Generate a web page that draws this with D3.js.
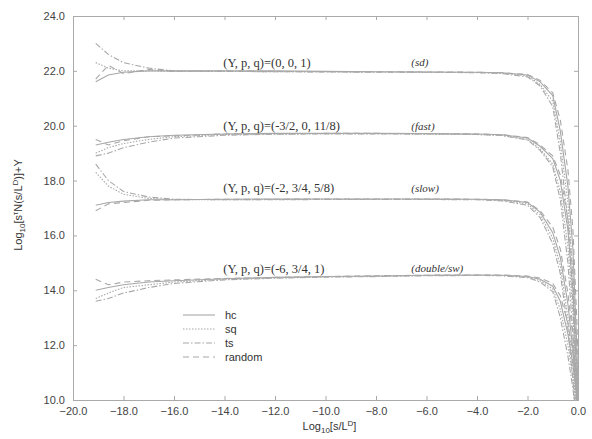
<!DOCTYPE html>
<html><head><meta charset="utf-8">
<script src="https://cdn.jsdelivr.net/npm/d3@7"></script>
<style>body{margin:0;background:#fff}svg{display:block}</style>
</head><body><svg id="c" width="592" height="439"></svg>
<script>
const xTicks = [-20,-18,-16,-14,-12,-10,-8,-6,-4,-2,0];
const yTicks = [10,12,14,16,18,20,22,24];
const seriesNames = ["hc","sq","ts","random"];
const xs = [-19.1,-18.6,-18.0,-17.0,-16.0,-14.0,-12.0,-10.0,-8.0,-6.0,-4.0,-3.0,-2.0,-1.5,-1.0,-0.7,-0.4,-0.2,-0.05,0];
// group (0,0,1) sd
const sd_hc  = [21.6,21.85,21.95,22.0,22.0,22.0,22.0,21.98,21.97,21.96,21.95,21.93,21.85,21.6,21.1,19.8,17.8,15.5,12.0,10.5];
const sd_sq  = [22.3,22.1,22.0,22.0,21.98,21.98,21.97,21.97,21.96,21.95,21.94,21.92,21.82,21.5,20.9,19.4,17.2,14.6,11.2,9.8];
const sd_ts  = [23.0,22.6,22.3,22.1,22.0,21.98,21.97,21.96,21.95,21.95,21.93,21.9,21.78,21.45,20.7,19.0,16.5,13.5,10.2,9.0];
const sd_rnd = [21.7,22.2,21.9,22.05,21.98,22.0,21.98,21.97,21.97,21.96,21.95,21.93,21.87,21.65,21.2,20.2,18.4,16.2,13.0,11.5];
// group (-3/2,0,11/8) fast
const fa_hc  = [19.3,19.4,19.5,19.6,19.65,19.7,19.72,19.72,19.72,19.71,19.7,19.67,19.55,19.25,18.8,18.0,16.2,14.0,10.8,9.8];
const fa_sq  = [19.0,19.2,19.35,19.5,19.6,19.68,19.7,19.71,19.71,19.7,19.68,19.65,19.5,19.15,18.6,17.6,15.6,13.2,10.2,9.2];
const fa_ts  = [18.9,19.0,19.2,19.4,19.55,19.65,19.69,19.7,19.7,19.7,19.68,19.64,19.48,19.1,18.5,17.3,15.0,12.4,9.5,8.5];
const fa_rnd = [19.5,19.3,19.45,19.6,19.63,19.7,19.71,19.72,19.72,19.71,19.7,19.67,19.57,19.3,18.9,18.2,16.6,14.6,11.4,10.2];
// group (-2,3/4,5/8) slow
const sl_hc  = [17.1,17.2,17.25,17.3,17.3,17.32,17.33,17.33,17.33,17.33,17.32,17.3,17.2,16.85,16.1,15.2,13.5,11.8,10.0,9.5];
const sl_sq  = [18.3,17.8,17.5,17.35,17.3,17.3,17.31,17.32,17.32,17.32,17.31,17.28,17.15,16.75,15.9,14.9,13.0,11.2,9.4,9.0];
const sl_ts  = [18.6,18.0,17.6,17.4,17.32,17.3,17.3,17.31,17.31,17.31,17.3,17.26,17.1,16.65,15.7,14.6,12.6,10.7,8.9,8.5];
const sl_rnd = [16.9,17.15,17.2,17.28,17.3,17.32,17.32,17.33,17.33,17.33,17.32,17.3,17.22,16.9,16.3,15.5,13.9,12.3,10.5,10.0];
// group (-6,3/4,1)
const dw_hc  = [14.0,14.1,14.2,14.3,14.35,14.42,14.47,14.5,14.52,14.55,14.56,14.55,14.5,14.4,14.15,13.6,12.4,11.3,10.1,9.8];
const dw_sq  = [13.7,13.9,14.1,14.2,14.3,14.4,14.45,14.49,14.51,14.54,14.55,14.54,14.48,14.35,14.05,13.3,12.0,10.8,9.6,9.3];
const dw_ts  = [13.6,13.7,13.9,14.1,14.25,14.38,14.44,14.48,14.5,14.53,14.54,14.53,14.46,14.3,13.95,13.0,11.6,10.4,9.2,8.9];
const dw_rnd = [14.4,14.2,14.3,14.35,14.38,14.43,14.47,14.5,14.53,14.55,14.56,14.56,14.52,14.45,14.25,13.8,12.8,11.7,10.5,10.1];

const groups = [
  {label:"(Y, p, q)=(0, 0, 1)", tag:"(sd)", ly:22.3, series:[sd_hc,sd_sq,sd_ts,sd_rnd]},
  {label:"(Y, p, q)=(-3/2, 0, 11/8)", tag:"(fast)", ly:20.0, series:[fa_hc,fa_sq,fa_ts,fa_rnd]},
  {label:"(Y, p, q)=(-2, 3/4, 5/8)", tag:"(slow)", ly:17.73, series:[sl_hc,sl_sq,sl_ts,sl_rnd]},
  {label:"(Y, p, q)=(-6, 3/4, 1)", tag:"(double/sw)", ly:14.8, series:[dw_hc,dw_sq,dw_ts,dw_rnd]}
];
const dashes = ["none","1.5,1.5","6,2,1.5,2","6,4"];
const lineColor = "#a8a8a8";

const svg = d3.select("#c");
const L=73, R=578, T=16, B=400;
const x = d3.scaleLinear().domain([-20,0]).range([L,R]);
const y = d3.scaleLinear().domain([10,24]).range([B,T]);

svg.append("defs").append("clipPath").attr("id","clip")
  .append("rect").attr("x",L).attr("y",T).attr("width",R-L).attr("height",B-T);

const line = d3.line().x((d,i)=>x(xs[i])).y(d=>y(d));
const plot = svg.append("g").attr("clip-path","url(#clip)");
groups.forEach(g=>{
  g.series.forEach((s,k)=>{
    plot.append("path").datum(s).attr("d",line)
      .attr("fill","none").attr("stroke",lineColor).attr("stroke-width",1.1)
      .attr("stroke-dasharray",dashes[k]);
  });
});

// frame and axes with inward ticks
const axCol="#aaa";
const fmt = d3.format(".1f");
svg.append("g").attr("transform",`translate(0,${B})`)
  .call(d3.axisBottom(x).tickValues(xTicks).tickSize(-4).tickPadding(7).tickFormat(fmt));
svg.append("g").attr("transform",`translate(0,${T})`)
  .call(d3.axisTop(x).tickValues(xTicks).tickSize(-4).tickFormat(""));
svg.append("g").attr("transform",`translate(${L},0)`)
  .call(d3.axisLeft(y).tickValues(yTicks).tickSize(-4).tickPadding(8).tickFormat(fmt));
svg.append("g").attr("transform",`translate(${R},0)`)
  .call(d3.axisRight(y).tickValues(yTicks).tickSize(-4).tickFormat(""));
svg.selectAll(".domain").attr("stroke",axCol);
svg.selectAll(".tick line").attr("stroke",axCol);
svg.selectAll(".tick text").attr("fill","#444").attr("font-family","Liberation Sans, Arial, sans-serif").attr("font-size",11);

// group labels
groups.forEach(g=>{
  svg.append("text").attr("x",x(-14.05)).attr("y",y(g.ly)).attr("dy","0.35em")
    .attr("font-family","Liberation Serif, Times New Roman, serif").attr("font-size",12.5).attr("fill","#333")
    .text(g.label);
  svg.append("text").attr("x",x(-6.6)).attr("y",y(g.ly)).attr("dy","0.35em")
    .attr("font-family","Liberation Serif, Times New Roman, serif").attr("font-style","italic").attr("font-size",11).attr("fill","#333")
    .text(g.tag);
});

// legend
const lg = svg.append("g").attr("transform","translate(183,315)");
seriesNames.forEach((n,k)=>{
  lg.append("line").attr("x1",0).attr("x2",32).attr("y1",k*14).attr("y2",k*14)
    .attr("stroke",lineColor).attr("stroke-width",1.1).attr("stroke-dasharray",dashes[k]);
  lg.append("text").attr("x",42).attr("y",k*14).attr("dy","0.35em")
    .attr("font-family","Liberation Sans, Arial, sans-serif").attr("font-size",11).attr("fill","#333").text(n);
});

// axis titles
const xt = svg.append("text").attr("x",(L+R)/2+4).attr("y",430).attr("text-anchor","middle")
  .attr("font-family","Liberation Sans, Arial, sans-serif").attr("font-size",11).attr("fill","#333");
xt.append("tspan").text("Log");
xt.append("tspan").attr("font-size",8).attr("dy",3).text("10");
xt.append("tspan").attr("dy",-3).text("[s/L");
xt.append("tspan").attr("font-size",8).attr("dy",-4).text("D");
xt.append("tspan").attr("dy",4).text("]");

const yt = svg.append("text").attr("transform","translate(22,205) rotate(-90)").attr("text-anchor","middle")
  .attr("font-family","Liberation Sans, Arial, sans-serif").attr("font-size",11).attr("fill","#333");
yt.append("tspan").text("Log");
yt.append("tspan").attr("font-size",8).attr("dy",3).text("10");
yt.append("tspan").attr("dy",-3).text("[s");
yt.append("tspan").attr("font-size",8).attr("dy",-4).text("τ");
yt.append("tspan").attr("dy",4).text("N(s/L");
yt.append("tspan").attr("font-size",8).attr("dy",-4).text("D");
yt.append("tspan").attr("dy",4).text(")]+Y");
</script></body></html>
